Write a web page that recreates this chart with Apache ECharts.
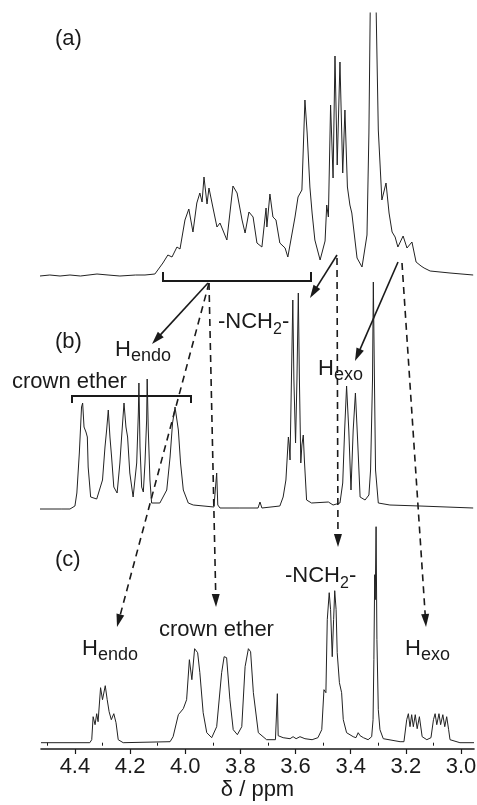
<!DOCTYPE html>
<html><head><meta charset="utf-8">
<script src="https://cdn.jsdelivr.net/npm/echarts@6/dist/echarts.min.js"></script>
<style>html,body{margin:0;padding:0;background:#fff}#c{width:477px;height:805px}</style>
</head><body><div id="c"></div>
<script>
// ---- data (chemical shift in ppm, intensity read above each trace's baseline) ----
const majorTicks = [4.4, 4.2, 4.0, 3.8, 3.6, 3.4, 3.2, 3.0];
const minorTicks = [4.5, 4.3, 4.1, 3.9, 3.7, 3.5, 3.3, 3.1];
const ppmMin = 2.953, ppmMax = 4.523;

const traceA = [
[4.527,0],[4.491,1],[4.454,0],[4.418,1],[4.380,0],[4.320,2],[4.280,1],[4.237,0],[4.180,1],[4.146,1],[4.110,2],[4.103,3],[4.081,13],[4.063,21],[4.048,19],[4.030,29],[4.019,27],[4.001,56],[3.987,67],[3.972,44],[3.958,73],[3.947,83],[3.939,74],[3.932,99],[3.921,72],[3.914,88],[3.900,69],[3.885,49],[3.874,53],[3.849,36],[3.827,90],[3.812,83],[3.794,56],[3.783,43],[3.769,64],[3.754,59],[3.740,33],[3.722,29],[3.707,68],[3.704,49],[3.693,82],[3.682,59],[3.671,56],[3.657,33],[3.638,28],[3.628,19],[3.602,59],[3.591,79],[3.577,86],[3.566,176],[3.558,143],[3.548,89],[3.540,63],[3.530,36],[3.511,16],[3.493,35],[3.487,71],[3.481,59],[3.473,171],[3.464,98],[3.457,220],[3.449,111],[3.439,214],[3.429,103],[3.421,166],[3.412,89],[3.403,71],[3.396,63],[3.377,18],[3.359,9],[3.341,41],[3.334,143],[3.328,300],[3.319,320],[3.310,300],[3.300,146],[3.287,76],[3.272,93],[3.261,63],[3.250,44],[3.239,39],[3.229,29],[3.210,40],[3.196,28],[3.178,34],[3.163,14],[3.145,10],[3.134,8],[3.112,5],[3.040,3],[2.956,1]
];
const traceB = [
[4.527,0],[4.450,0],[4.418,0],[4.400,3],[4.393,16],[4.384,56],[4.376,102],[4.372,106],[4.367,82],[4.360,77],[4.355,72],[4.352,42],[4.343,12],[4.321,10],[4.300,29],[4.291,62],[4.285,79],[4.279,99],[4.273,72],[4.267,52],[4.259,22],[4.247,16],[4.237,46],[4.231,71],[4.222,106],[4.215,82],[4.209,72],[4.201,36],[4.189,12],[4.176,46],[4.170,96],[4.168,126],[4.164,62],[4.158,22],[4.152,17],[4.146,46],[4.140,89],[4.138,130],[4.134,79],[4.128,29],[4.122,6],[4.092,6],[4.067,19],[4.055,52],[4.046,86],[4.037,102],[4.031,104],[4.025,79],[4.017,46],[4.007,19],[3.989,6],[3.971,4],[3.896,2],[3.890,4],[3.886,36],[3.882,4],[3.874,1],[3.802,1],[3.736,1],[3.729,7],[3.722,1],[3.657,3],[3.645,12],[3.635,29],[3.626,72],[3.623,64],[3.620,49],[3.615,129],[3.610,209],[3.606,129],[3.600,66],[3.595,129],[3.590,216],[3.586,129],[3.581,46],[3.577,64],[3.572,74],[3.568,49],[3.560,9],[3.542,6],[3.481,7],[3.464,4],[3.439,6],[3.429,26],[3.422,79],[3.415,123],[3.407,79],[3.399,19],[3.391,79],[3.383,116],[3.375,69],[3.366,12],[3.348,9],[3.334,14],[3.328,39],[3.321,129],[3.318,227],[3.314,129],[3.310,39],[3.300,6],[3.258,4],[3.149,3],[2.956,1]
];
const traceC = [
[4.523,0],[4.346,0],[4.339,3],[4.334,26],[4.327,18],[4.321,29],[4.316,21],[4.307,55],[4.300,43],[4.290,57],[4.283,43],[4.276,31],[4.268,23],[4.259,29],[4.251,20],[4.243,3],[4.225,0],[4.055,1],[4.044,6],[4.025,28],[4.007,34],[3.995,43],[3.985,83],[3.976,63],[3.966,94],[3.955,90],[3.947,70],[3.935,30],[3.922,10],[3.904,5],[3.886,16],[3.868,70],[3.859,86],[3.850,85],[3.838,43],[3.826,13],[3.811,8],[3.795,16],[3.783,76],[3.771,94],[3.763,91],[3.753,50],[3.735,10],[3.705,3],[3.673,3],[3.669,5],[3.666,49],[3.663,7],[3.645,5],[3.620,4],[3.609,6],[3.598,4],[3.584,6],[3.566,4],[3.540,3],[3.519,5],[3.505,13],[3.497,53],[3.490,50],[3.485,123],[3.478,150],[3.473,133],[3.467,86],[3.462,123],[3.458,152],[3.453,133],[3.449,90],[3.441,60],[3.433,50],[3.427,23],[3.415,10],[3.391,6],[3.381,5],[3.373,10],[3.366,7],[3.360,9],[3.354,5],[3.337,3],[3.324,6],[3.319,23],[3.316,83],[3.313,168],[3.311,143],[3.308,216],[3.305,103],[3.300,33],[3.294,13],[3.282,4],[3.221,1],[3.207,1],[3.197,23],[3.191,29],[3.185,16],[3.179,28],[3.173,16],[3.166,28],[3.159,14],[3.151,26],[3.141,6],[3.124,3],[3.109,5],[3.100,23],[3.094,29],[3.088,18],[3.080,29],[3.074,18],[3.066,28],[3.059,16],[3.052,26],[3.045,13],[3.040,3],[3.004,0],[2.953,0]
];
const traces = [traceA, traceB, traceC];

// ---- layout ----
const FONT = '"Liberation Sans", Arial, Helvetica, sans-serif';
const INK = '#1a1a1a';
const grids = [
  {left: 41, right: 3, top: 13,  height: 269, containLabel: false, outerBoundsMode: 'none'},
  {left: 41, right: 3, top: 270, height: 245, containLabel: false, outerBoundsMode: 'none'},
  {left: 41, right: 3, top: 520, height: 229, containLabel: false, outerBoundsMode: 'none'}
];
const yRanges = [[-6, 263], [-6, 239], [-6.3, 222.7]];

const xAxes = grids.map((g, i) => ({
  gridIndex: i, type: 'value', min: ppmMin, max: ppmMax, inverse: true,
  show: i === 2, splitLine: {show: false},
  axisLine: {show: true, onZero: false, lineStyle: {color: INK, width: 1.6}},
  axisTick: {show: true, customValues: majorTicks, length: 5, lineStyle: {color: INK, width: 1.2}},
  axisLabel: {show: true, customValues: majorTicks, formatter: v => v.toFixed(1),
    fontSize: 22, fontFamily: FONT, color: INK, margin: 7},
  name: i === 2 ? 'δ / ppm' : '', nameLocation: 'middle', nameGap: 30,
  nameTextStyle: {fontSize: 22, fontFamily: FONT, color: INK}
}));
xAxes.push({
  gridIndex: 2, type: 'value', min: ppmMin, max: ppmMax, inverse: true, position: 'bottom',
  splitLine: {show: false}, axisLine: {show: false},
  axisTick: {show: true, customValues: minorTicks, length: 3, lineStyle: {color: INK, width: 1}},
  axisLabel: {show: false}
});
const yAxes = grids.map((g, i) => ({gridIndex: i, type: 'value', min: yRanges[i][0], max: yRanges[i][1], show: false, splitLine: {show: false}}));

const series = traces.map((d, i) => ({
  type: 'line', xAxisIndex: i, yAxisIndex: i, data: d, showSymbol: false, symbol: 'none',
  clip: true, lineStyle: {color: '#222', width: 1}, silent: true
}));

// ---- annotations (pixel layout) ----
const brackets = [
  [[163, 272], [163, 281], [311, 281], [311, 272]],
  [[72, 403], [72, 396], [191, 396], [191, 403]]
];
const arrows = [
  {from: [208, 283], to: [152, 344], dashed: false},
  {from: [209, 283], to: [216, 607], dashed: true},
  {from: [209, 283], to: [117, 627], dashed: true},
  {from: [337, 255], to: [310, 298], dashed: false},
  {from: [337, 258], to: [338, 547], dashed: true},
  {from: [398, 262], to: [355, 361], dashed: false},
  {from: [402, 263], to: [426, 627], dashed: true}
];
const labels = [
  {x: 55, base: 47, parts: [['(a)', 22, 0]]},
  {x: 55, base: 350, parts: [['(b)', 22, 0]]},
  {x: 55, base: 568, parts: [['(c)', 22, 0]]},
  {x: 12, base: 390, parts: [['crown ether', 22, 0]]},
  {x: 115, base: 358, parts: [['H', 22, 0], ['endo', 18, 4]]},
  {x: 218, base: 330, parts: [['-NCH', 22, 0], ['2', 16, 5], ['-', 22, 0]]},
  {x: 318, base: 377, parts: [['H', 22, 0], ['exo', 18, 4]]},
  {x: 82, base: 657, parts: [['H', 22, 0], ['endo', 18, 4]]},
  {x: 159, base: 638, parts: [['crown ether', 22, 0]]},
  {x: 285, base: 584, parts: [['-NCH', 22, 0], ['2', 16, 5], ['-', 22, 0]]},
  {x: 405, base: 657, parts: [['H', 22, 0], ['exo', 18, 4]]}
];

const graphic = [];
brackets.forEach(p => graphic.push({type: 'polyline', shape: {points: p}, style: {stroke: INK, lineWidth: 2, fill: null}, silent: true}));
arrows.forEach(a => {
  const [x1, y1] = a.from, [x2, y2] = a.to;
  const dx = x2 - x1, dy = y2 - y1, d = Math.hypot(dx, dy), ux = dx / d, uy = dy / d;
  const L = 13, W = 4;
  const bx = x2 - ux * L, by = y2 - uy * L;
  graphic.push({type: 'line', shape: {x1, y1, x2: bx + ux * 2, y2: by + uy * 2},
    style: {stroke: INK, lineWidth: 1.6, lineDash: a.dashed ? [7, 5] : null}, silent: true});
  graphic.push({type: 'polygon', shape: {points: [[x2, y2], [bx - uy * W, by + ux * W], [bx + uy * W, by - ux * W]]},
    style: {fill: INK, stroke: null}, silent: true});
});
const ctx = document.createElement('canvas').getContext('2d');
labels.forEach(l => {
  let x = l.x;
  l.parts.forEach(([t, s, dy]) => {
    const font = s + 'px ' + FONT;
    ctx.font = font;
    graphic.push({type: 'text', x: x, y: l.base + dy - 0.35 * s,
      style: {text: t, font: font, fill: INK, align: 'left', verticalAlign: 'middle'}, silent: true});
    x += ctx.measureText(t).width;
  });
});

const chart = echarts.init(document.getElementById('c'), null, {renderer: 'canvas'});
chart.setOption({
  animation: false, backgroundColor: '#fff',
  grid: grids, xAxis: xAxes, yAxis: yAxes, series: series, graphic: graphic
});
</script></body></html>
